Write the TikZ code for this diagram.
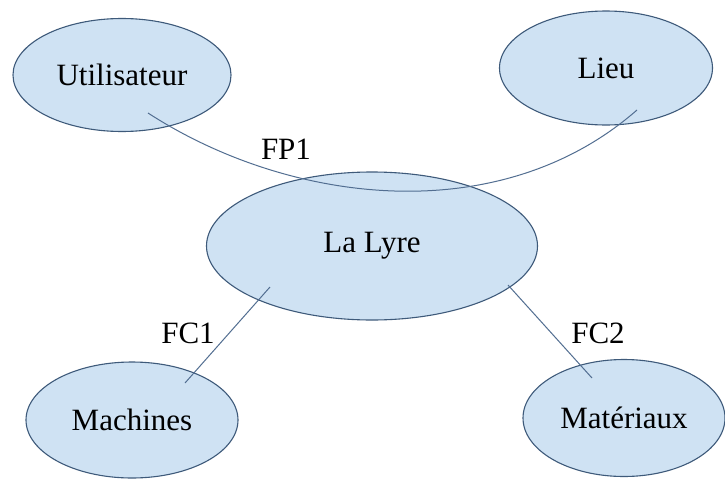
\documentclass[tikz,border=0pt]{standalone}
\usepackage{fontspec}
\setmainfont{Liberation Serif}
\usetikzlibrary{shapes.geometric}
\definecolor{bubblefill}{RGB}{207,226,243}
\definecolor{bubbleline}{RGB}{62,90,122}
\definecolor{linkline}{RGB}{82,110,145}
\begin{document}
\begin{tikzpicture}[x=1pt,y=-1pt,
  bubble/.style={ellipse,draw=bubbleline,line width=1.1pt,fill=bubblefill,
    inner sep=0pt,font=\fontsize{31}{31}\selectfont},
  link/.style={draw=linkline,line width=1pt},
  fnlabel/.style={font=\fontsize{31}{31}\selectfont,inner sep=0pt}]
\useasboundingbox[fill=white] (0,0) rectangle (725,479);

% functions of the system
\node[bubble,minimum width=218pt,minimum height=113pt] (util) at (122,75) {Utilisateur};
\node[bubble,minimum width=213pt,minimum height=114pt] (lieu) at (606,68) {Lieu};
\node[bubble,minimum width=331pt,minimum height=148pt] (lyre) at (372,246) {La Lyre};
\node[bubble,minimum width=212pt,minimum height=116pt] (mach) at (132,420) {Machines};
\node[bubble,minimum width=202pt,minimum height=117pt] (mat) at (624,418) {Matériaux};

% link end points inside the bubbles
\coordinate (fpA) at (148,113);
\coordinate (fpB) at (637,110);
\coordinate (fc1A) at (270,287);
\coordinate (fc1B) at (185,383);
\coordinate (fc2A) at (508,285);
\coordinate (fc2B) at (592,378);

\draw[link] (fpA) .. controls (290,205) and (500,230) .. (fpB);
\draw[link] (fc1A) -- (fc1B);
\draw[link] (fc2A) -- (fc2B);

\node[fnlabel] (fp1) at (286,149) {FP1};
\node[fnlabel] (fc1) at (188,333) {FC1};
\node[fnlabel] (fc2) at (598,333) {FC2};
\end{tikzpicture}
\end{document}
